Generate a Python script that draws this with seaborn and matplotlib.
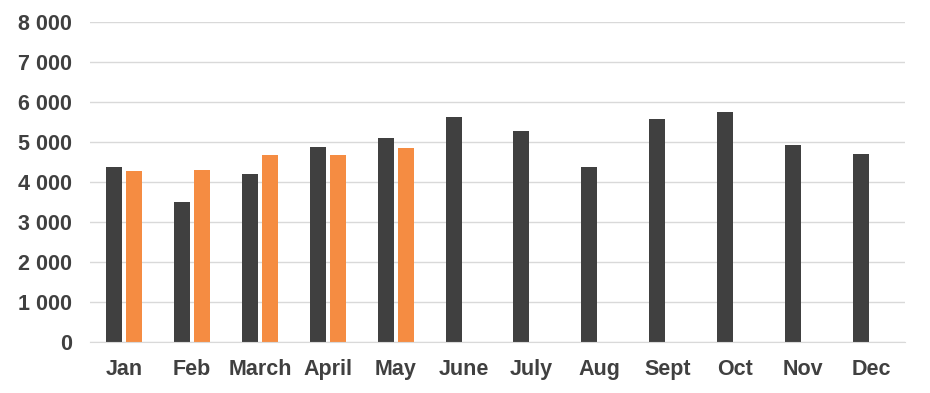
import pandas as pd
import seaborn as sns
import matplotlib.pyplot as plt
from matplotlib.ticker import FuncFormatter

# Values
months = ["Jan", "Feb", "March", "April", "May", "June", "July", "Aug", "Sept", "Oct", "Nov", "Dec"]
last_year = [4380, 3510, 4210, 4880, 5110, 5630, 5280, 4380, 5580, 5760, 4930, 4710]
this_year = [4280, 4310, 4680, 4680, 4860, None, None, None, None, None, None, None]

df = pd.DataFrame({
    "month": months * 2,
    "series": ["last_year"] * len(months) + ["this_year"] * len(months),
    "value": last_year + this_year,
})

plt.rcParams["font.family"] = ["Liberation Sans", "DejaVu Sans"]

fig = plt.figure(figsize=(9.3, 3.93), dpi=100)
ax = fig.add_axes([0.097, 0.130, 0.876, 0.814])

sns.barplot(data=df, x="month", y="value", hue="series", order=months,
            palette=["#404040", "#f58c42"], width=0.59, gap=0.2,
            saturation=1, legend=False, ax=ax)

ax.set_ylim(0, 8000)
ax.set_yticks(range(0, 8001, 1000))
ax.yaxis.set_major_formatter(FuncFormatter(lambda v, p: f"{int(v):,}".replace(",", " ")))
ax.set_xlim(-0.5, len(months) - 0.5)
ax.set_xlabel("")
ax.set_ylabel("")

ax.grid(axis="y", color="#d9d9d9", linewidth=1)
ax.set_axisbelow(True)
for side in ["top", "right", "left"]:
    ax.spines[side].set_visible(False)
ax.spines["bottom"].set_color("#d9d9d9")

ax.tick_params(axis="both", length=0, labelsize=15.5, labelcolor="#404040")
ax.tick_params(axis="y", pad=13)
ax.tick_params(axis="x", pad=12)
for lbl in ax.get_xticklabels() + ax.get_yticklabels():
    lbl.set_fontweight("bold")

fig.savefig("out.png", dpi=100)
